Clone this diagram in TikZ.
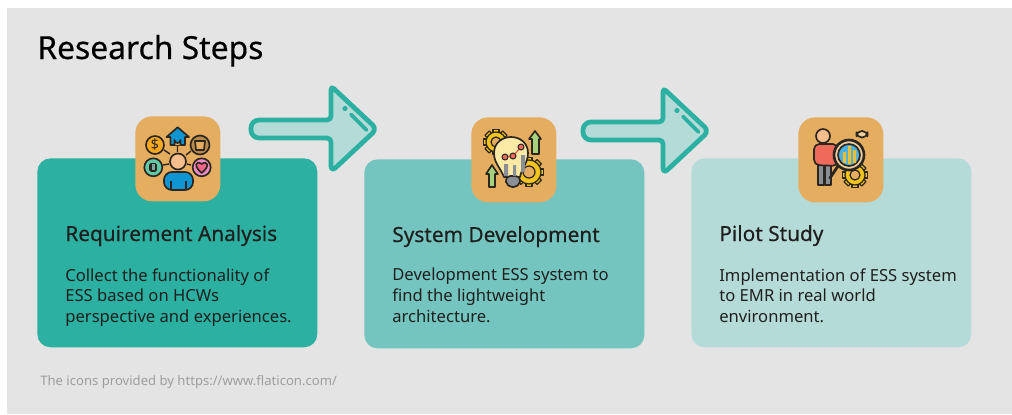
\documentclass[tikz,border=0pt]{standalone}
\usepackage{fontspec}
\setmainfont{Noto Sans}
\newfontfamily\headfont[FakeBold=0.35]{Noto Sans}
\usetikzlibrary{positioning}
\definecolor{pagegray}{HTML}{E4E4E4}
\definecolor{tealdark}{HTML}{2BB0A1}
\definecolor{tealmid}{HTML}{74C4BF}
\definecolor{teallight}{HTML}{B5DBD8}
\definecolor{tileorange}{HTML}{E5AD5F}
\definecolor{inkdark}{HTML}{1F1F1F}
\definecolor{iconline}{HTML}{2B2620}
\definecolor{iconblue}{HTML}{0F96D2}
\definecolor{iconskin}{HTML}{F6BE8C}
\definecolor{icongold}{HTML}{F7A823}
\definecolor{iconmint}{HTML}{62C9A8}
\definecolor{iconpink}{HTML}{EE8CC6}
\definecolor{icongear}{HTML}{F3C41C}
\definecolor{iconleaf}{HTML}{A6D27C}
\definecolor{iconbulb}{HTML}{FBE9A6}
\definecolor{iconred}{HTML}{EE6A5A}
\definecolor{icongray}{HTML}{8A8F96}
\tikzset{
  card/.style = {rounded corners = 7.5pt, minimum width = 5.6cm, minimum height = 3.78cm, inner sep = 0pt},
  tile/.style = {fill = tileorange, rounded corners = 9.5pt, minimum width = 1.7cm, minimum height = 1.7cm, inner sep = 0pt},
  heading/.style = {anchor = base west, inner sep = 0pt, text = inkdark, font = \headfont\fontsize{11.85}{13}\selectfont},
  body/.style = {anchor = north west, inner sep = 0pt, align = left, text = inkdark, font = \fontsize{9.45}{11.7}\selectfont},
  icon/.style = {draw = iconline, line width = .95pt, line join = round},
  spoke/.style = {draw = iconline, line width = .8pt}
}
\begin{document}
\begin{tikzpicture}[x = .02cm, y = -.02cm]
\useasboundingbox (0,0) rectangle (1012,414);
\fill[pagegray] (7,8) rectangle (1012,414);
\node[anchor = base west, inner sep = 0pt, font = \headfont\fontsize{18.1}{20}\selectfont] (title) at (37,59) {Research Steps};
% cards
\node[card, fill = tealdark, anchor = north west] (reqcard) at (37,158) {};
\node[card, fill = tealmid, anchor = north west] (syscard) at (364,159) {};
\node[card, fill = teallight, anchor = north west] (pilotcard) at (691,158) {};
% arrows
\foreach \dx/\dy in {0/0, 332/2} {
  \begin{scope}[shift = {(\dx,\dy)}]
    \draw[tealdark, fill = teallight, line width = 2.7pt, line join = round, rounded corners = 4.5pt]
      (251,120) [rounded corners = 2.2pt] -- (331,120) -- (331,86) [rounded corners = 3.5pt] -- (377,129) -- (331,172) [rounded corners = 2.2pt] -- (331,138) [rounded corners = 4.5pt] -- (251,138) -- cycle;
    \fill[tealdark] (345,108.5) circle (2.6);
    \draw[tealdark, line width = 2.2pt, line cap = round] (351,114.5) -- (366.5,130);
  \end{scope}
}
% tiles
\node[tile, anchor = north west] (reqtile) at (135,116) {};
\node[tile, anchor = north west] (systile) at (471,117) {};
\node[tile, anchor = north west] (pilottile) at (798,117) {};
% texts
\node[heading] (reqhead) at (65,241) {Requirement Analysis};
\node[body] (reqbody) at (65,268) {Collect the functionality of\\ESS based on HCWs\\perspective and experiences.};
\node[heading] (syshead) at (392,242) {System Development};
\node[body] (sysbody) at (392,268) {Development ESS system to\\find the lightweight\\architecture.};
\node[heading] (pilothead) at (719,241) {Pilot Study};
\node[body] (pilotbody) at (719,268) {Implementation of ESS system\\to EMR in real world\\environment.};
\node[anchor = base west, inner sep = 0pt, text = black!38, font = \fontsize{7.45}{9}\selectfont] (credit) at (40,385) {The icons provided by https://www.flaticon.com/};
% first icon
\draw[spoke] (177.5,146) -- (177.5,152) (164,150) -- (170,154) (191,151) -- (186,155) (163,165) -- (169,164) (191,165) -- (187,164);
\draw[icon, fill = icongold] (155,145) circle (9);
\draw[icon, fill = tileorange!80!black] (200,145) circle (9.5);
\draw[icon, fill = iconmint] (153.3,167.3) circle (9);
\draw[icon, fill = iconpink] (201.7,167.3) circle (9);
\draw[icon, fill = iconblue] (170.5,137) -- (166.5,137) -- (177.7,127.3) -- (189,137) -- (185,137) -- (185,145) -- (170.5,145) -- cycle;
\draw[icon, fill = tileorange] (174.5,145) -- (174.5,140) arc (180:0:3) -- (180.5,145);
\draw[icon, fill = iconskin] (178,161.5) circle (8);
\draw[icon, fill = iconblue, rounded corners = 4.5pt] (164,190) -- (164,172) -- (193,172) -- (193,190) -- cycle;
\draw[spoke] (171,181) -- (171,190) (186,181) -- (186,190);
\node[inner sep = 0pt, text = iconline, font = \fontsize{8}{8}\selectfont] (dollar) at (155,145) {\$};
\draw[icon, fill = icongray!60!iconmint] (150,164.8) rectangle (156.6,169.8);
\draw[icon, fill = icongray!60!iconmint] (151,163.6) rectangle (155.6,171);
\draw[icon, fill = iconpink!70!red] (201.7,173) .. controls (193,166) and (196,160) .. (201.7,164) .. controls (207.5,160) and (210.5,166) .. (201.7,173) -- cycle;
\draw[icon, fill = tileorange] (195,141) -- (205,141) -- (204,150) -- (196,150) -- cycle;
% second icon
\foreach \gx/\gy/\gr in {496/142/10, 529/172/12} {
  \foreach \ang in {0,45,...,315} {
    \draw[icon, line width = .7pt, fill = icongear, rotate around = {\ang:(\gx,\gy)}] (\gx-3,\gy-\gr+1) rectangle (\gx+3,\gy-\gr-2.5);
  }
  \draw[icon, line width = .7pt, fill = icongear] (\gx,\gy) circle (\gr);
  \draw[icon, line width = .7pt, fill = tileorange] (\gx,\gy) circle (\gr/2);
}
\draw[icon, fill = iconleaf] (535,131) -- (541,139) -- (539,139) -- (539,154) -- (532,154) -- (532,139) -- (529,139) -- cycle;
\draw[icon, fill = iconleaf] (492,165) -- (498,174) -- (495,174) -- (495,187) -- (489,187) -- (489,174) -- (486,174) -- cycle;
\draw[icon, fill = iconbulb] (504,177) .. controls (500,167) and (494,163) .. (494,153) .. controls (494,143) and (502,137) .. (511,137) .. controls (520,137) and (528,143) .. (528,153) .. controls (528,163) and (522,167) .. (520,177) -- cycle;
\draw[icon, fill = icongray, rounded corners = 3pt] (505,176) -- (521,176) -- (519,187) -- (507,187) -- cycle;
\fill[icongray] (504,164) rectangle (508,176) (513,165) rectangle (516,176) (521,155) rectangle (525,172);
\draw[spoke, draw = iconred] (505,157) -- (513,156) -- (521,147);
\foreach \px/\py in {505/157, 513/156, 521/147} {
  \draw[icon, line width = .6pt, fill = iconred] (\px,\py) circle (3);
}
% third icon
\foreach \ang in {0,45,...,315} {
  \draw[icon, line width = .7pt, fill = icongear, rotate around = {\ang:(855,175)}] (852,166) rectangle (858,162.5);
}
\draw[icon, line width = .7pt, fill = icongear] (855,175) circle (10);
\draw[icon, line width = .7pt, fill = tileorange] (855,175) circle (5);
\draw[icon, fill = icongray] (818,163) rectangle (824,185);
\draw[icon, fill = icongray] (825,163) rectangle (831,185);
\draw[icon, fill = iconred, rounded corners = 3pt] (814,165) -- (814,144) -- (838,144) -- (838,166) -- cycle;
\draw[icon, fill = iconskin] (823,136) circle (7);
\draw[iconline, line width = 1.6pt, line cap = round] (838,166) -- (830,178);
\draw[icon, fill = tileorange!60!white, line width = 1.5pt] (849,155) circle (15);
\draw[icon, fill = iconblue!75!white] (849,155) circle (11);
\fill[icongear!70!tileorange] (843,152) rectangle (846,163) (848,146) rectangle (851,164) (853,150) rectangle (856,163);
\draw[icon, fill = tileorange!60!white, rounded corners = 3pt] (856.5,131) rectangle (867.5,137.5);
\end{tikzpicture}
\end{document}
